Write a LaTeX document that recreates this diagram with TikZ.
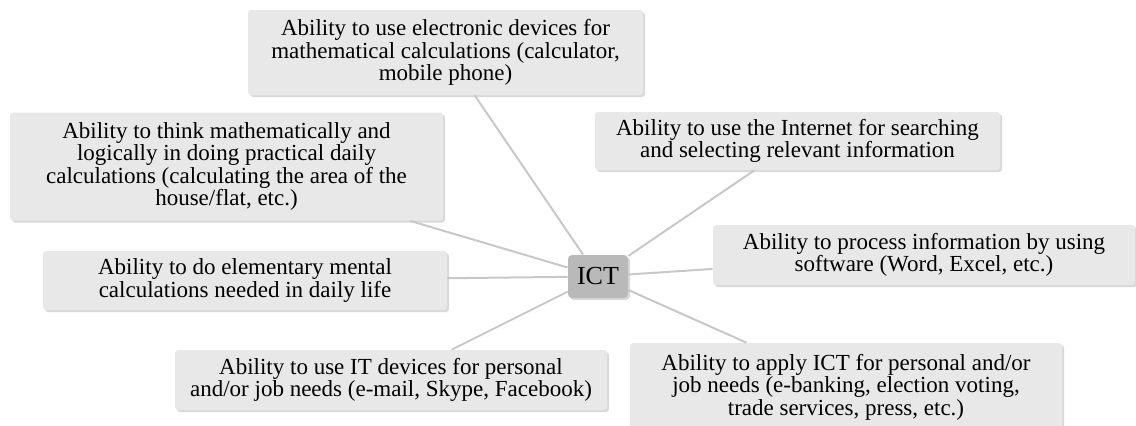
\documentclass[tikz,border=0pt]{standalone}
\usepackage{fontspec}
\setmainfont{Liberation Serif}
\usetikzlibrary{shadows}
\definecolor{boxgray}{RGB}{232,232,232}
\definecolor{ictgray}{RGB}{185,185,185}
\definecolor{linegray}{RGB}{200,200,200}
\begin{document}
\begin{tikzpicture}[x=0.5pt, y=-0.5pt,
skill/.style={fill=boxgray, rounded corners=1.5pt, align=center, inner sep=2pt,
  font=\fontsize{11.5}{11.3}\selectfont,
  drop shadow={shadow xshift=1pt, shadow yshift=-1pt, opacity=0.3}},
hub/.style={fill=ictgray, rounded corners=2pt, inner sep=0pt, minimum width=30pt, minimum height=21.5pt,
  font=\fontsize{13}{13}\selectfont,
  drop shadow={shadow xshift=1pt, shadow yshift=-1pt, opacity=0.3}},
link/.style={draw=linegray, line width=1pt}]

\useasboundingbox (0,0) rectangle (1136,425);

% centre
\node[hub] (ict) at (598,276.5) {ICT};

% the skills round it
\node[skill, minimum width=197.5pt, minimum height=42.5pt] (calc) at (445.5,52.5)
{Ability to use electronic devices for\\ mathematical calculations (calculator,\\ mobile phone)};
\node[skill, minimum width=216.5pt, minimum height=54pt] (think) at (226.5,166.5)
{Ability to think mathematically and\\ logically in doing practical daily\\ calculations (calculating the area of the\\ house/flat, etc.)};
\node[skill, minimum width=202pt, minimum height=29.5pt] (mental) at (245,280.5)
{Ability to do elementary mental\\ calculations needed in daily life};
\node[skill, minimum width=216pt, minimum height=30pt] (itdev) at (391,380)
{Ability to use IT devices for personal\\ and/or job needs (e-mail, Skype, Facebook)};
\node[skill, minimum width=202.5pt, minimum height=29pt] (web) at (797.5,141)
{Ability to use the Internet for searching\\ and selecting relevant information};
\node[skill, minimum width=211pt, minimum height=30pt] (soft) at (924,255)
{Ability to process information by using\\ software (Word, Excel, etc.)};
\node[skill, minimum width=216pt, minimum height=44pt] (apply) at (846,387)
{Ability to apply ICT for personal and/or\\ job needs (e-banking, election voting,\\ trade services, press, etc.)};

% spokes
\foreach \s in {calc,think,mental,itdev,web,soft,apply}
  \draw[link] (ict) -- (\s);

\end{tikzpicture}
\end{document}
